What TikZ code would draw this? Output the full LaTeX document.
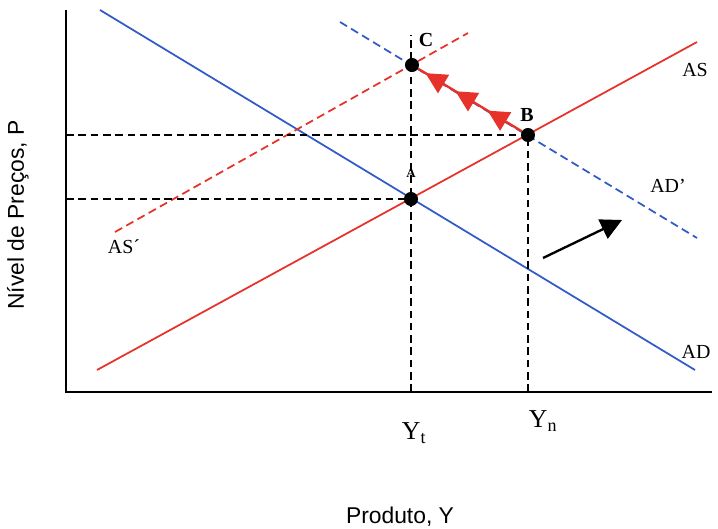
\documentclass[tikz,border=0pt]{standalone}
\usepackage{fontspec}
\setmainfont{Liberation Serif}
\setsansfont{Liberation Sans}
\usetikzlibrary{arrows.meta,decorations.markings}
\definecolor{adblue}{RGB}{50,90,200}
\definecolor{asred}{RGB}{230,50,40}
\begin{document}
\begin{tikzpicture}[x=0.03cm,y=-0.03cm,
  axis/.style={line width=2pt,black},
  guide/.style={dash pattern=on 6.5pt off 4pt,line width=1.5pt,black},
  adline/.style={adblue,line width=1.5pt},
  asline/.style={asred,line width=1.5pt},
  shifted/.style={dash pattern=on 7pt off 4pt},
  pt/.style={circle,fill=black,inner sep=0pt,minimum size=12pt},
  lab/.style={font=\fontsize{17}{17}\selectfont,inner sep=1pt},
  ptlab/.style={font=\fontsize{17}{17}\selectfont\bfseries,inner sep=1pt},
  axlab/.style={font=\sffamily\fontsize{19.5}{19.5}\selectfont},
  ylab/.style={font=\fontsize{22}{22}\selectfont}
]
\useasboundingbox (0,0) rectangle (718,529);
% axes
\coordinate (O) at (66,392);
\coordinate (ytop) at (66,10);
\coordinate (xend) at (712,392);
\draw[axis] (ytop) -- (O) -- (xend);
% curves
\coordinate (ad1) at (100,10);  \coordinate (ad2) at (695,370);
\coordinate (as1) at (97,370);  \coordinate (as2) at (697,42);
\coordinate (adp1) at (340,22); \coordinate (adp2) at (697,238);
\coordinate (asp1) at (115,232); \coordinate (asp2) at (468,33);
\draw[adline] (ad1) -- (ad2);
\draw[asline] (as1) -- (as2);
\draw[adline,shifted] (adp1) -- (adp2);
\draw[asline,shifted] (asp1) -- (asp2);
% points
\node[pt] (A) at (411,199) {};
\node[pt] (B) at (528,135) {};
\node[pt] (C) at (412,65) {};
% guides
\coordinate (yA) at (66,199);
\coordinate (yB) at (66,135);
\coordinate (xt) at (411,392);
\coordinate (xn) at (528,392);
\coordinate (ctop) at (411,35);
\draw[guide] (yB) -- (B.center);
\draw[guide] (yA) -- (A.center);
\draw[guide] (xt) -- (ctop);
\draw[guide] (xn) -- (B.center);
% path B -> C
\draw[asred,line width=2pt,
  decoration={markings,
    mark=at position 0.33 with {\arrow{Triangle[length=18pt,width=18pt]}},
    mark=at position 0.64 with {\arrow{Triangle[length=18pt,width=18pt]}},
    mark=at position 0.93 with {\arrow{Triangle[length=18pt,width=18pt]}}},
  postaction={decorate}] (B) -- (C);
% shift arrow
\coordinate (s1) at (543,258);
\coordinate (s2) at (622,220);
\draw[line width=2pt,-{Triangle[length=18pt,width=18pt]}] (s1) -- (s2);
% labels
\node[ptlab] (lC) at (426,40) {C};
\node[ptlab] (lB) at (527,115) {B};
\node[font=\fontsize{11}{11}\selectfont\bfseries,inner sep=0pt] (lA) at (411,173) {A};
\node[lab] (lAS) at (695,70) {AS};
\node[lab] (lADp) at (668,186) {AD’};
\node[lab] (lASp) at (124,247) {AS´};
\node[lab] (lAD) at (696,352) {AD};
\node[ylab] (lYt) at (414,433) {Y\textsubscript{t}};
\node[ylab] (lYn) at (543,421) {Y\textsubscript{n}};
\node[axlab] (lx) at (400,517) {Produto, Y};
\node[axlab,rotate=90] (ly) at (18,215) {Nível de Preços, P};
\end{tikzpicture}
\end{document}
